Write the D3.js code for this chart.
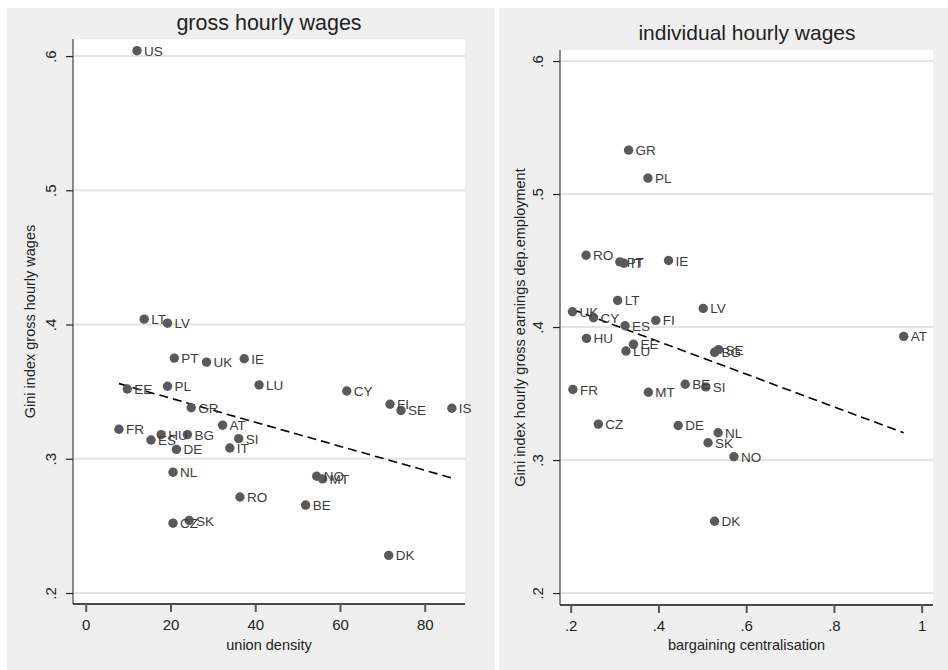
<!DOCTYPE html>
<html>
<head>
<meta charset="utf-8">
<script src="https://cdn.jsdelivr.net/npm/d3@7"></script>
<style>
  html, body { margin: 0; padding: 0; background: #ffffff; }
  svg { display: block; font-family: "Liberation Sans", Arial, sans-serif; }
</style>
</head>
<body>
<svg id="chart" width="948" height="670"></svg>
<script>
// Gini of gross hourly wages vs. union density
const leftCountries = ["US","LT","LV","PT","UK","IE","EE","PL","LU","GR","FR","AT","HU","ES","BG","SI","DE","IT","NL","RO","CZ","SK","CY","FI","SE","IS","NO","MT","BE","DK"];
const unionDensity  = [12.1,13.8,19.3,20.9,28.5,37.4,9.8,19.3,40.9,24.9,7.85,32.3,17.8,15.4,24.0,36.1,21.4,34.0,20.6,36.4,20.6,24.4,61.6,71.8,74.4,86.4,54.5,55.9,51.9,71.5];
const giniGross     = [.604,.404,.401,.375,.372,.3745,.352,.354,.355,.338,.322,.325,.318,.314,.318,.315,.307,.308,.290,.2715,.252,.254,.3505,.3406,.336,.3376,.287,.285,.2655,.228];

// Gini of individual hourly earnings vs. bargaining centralisation
const rightCountries  = ["GR","PL","RO","PT","IT","IE","LT","UK","CY","FI","LV","ES","HU","EE","LU","SE","BG","AT","FR","MT","BE","SI","CZ","DE","NL","SK","NO","DK"];
const centralisation  = [.332,.376,.235,.312,.321,.423,.307,.204,.252,.394,.502,.324,.236,.343,.326,.537,.528,.959,.205,.377,.461,.508,.263,.445,.536,.513,.572,.528];
const giniIndividual  = [.533,.512,.454,.449,.448,.450,.420,.4115,.407,.405,.414,.401,.3915,.387,.382,.383,.381,.393,.353,.351,.357,.355,.327,.326,.3205,.313,.3025,.254];

const yTicks = [.2,.3,.4,.5,.6];
const leftXTicks = [0,20,40,60,80];
const rightXTicks = [.2,.4,.6,.8,1];

const fmtDec = d => d === 1 ? "1" : d3.format(".1f")(d).replace(/^0/, "");

const svg = d3.select("#chart");

// grey panel backgrounds
svg.append("rect").attr("x", 7).attr("y", 8).attr("width", 488).attr("height", 662).attr("fill", "#efefef");
svg.append("rect").attr("x", 499).attr("y", 8).attr("width", 449).attr("height", 662).attr("fill", "#efefef");

function ols(xs, ys) {
  const mx = d3.mean(xs), my = d3.mean(ys);
  let sxy = 0, sxx = 0;
  xs.forEach((x, i) => { sxy += (x - mx) * (ys[i] - my); sxx += (x - mx) * (x - mx); });
  const b = sxy / sxx;
  return { b, a: my - b * mx };
}

function drawPanel(p) {
  const g = svg.append("g");
  const x = d3.scaleLinear().domain(p.xDomain).range([p.left, p.right]);
  const y = d3.scaleLinear().domain(p.yDomain).range([p.bottom, p.top]);

  // plot area
  g.append("rect").attr("x", p.left).attr("y", p.top)
    .attr("width", p.right - p.left).attr("height", p.bottom - p.top).attr("fill", "#ffffff");

  // horizontal grid
  g.selectAll(".grid").data(yTicks).join("line")
    .attr("x1", p.left).attr("x2", p.right)
    .attr("y1", d => y(d)).attr("y2", d => y(d))
    .attr("stroke", "#e4e4e4").attr("stroke-width", 2);

  // y axis
  const yAxis = g.append("g").attr("transform", `translate(${p.left},0)`)
    .call(d3.axisLeft(y).tickValues(yTicks).tickFormat(fmtDec).tickSize(7).tickPadding(9));
  yAxis.select(".domain").attr("stroke", "#6e6e6e").attr("stroke-width", 1.6)
    .attr("d", `M0,${p.top}V${p.bottom}`);
  yAxis.selectAll(".tick line").attr("stroke", "#222").attr("stroke-width", 1.2);
  yAxis.selectAll(".tick text")
    .attr("transform", "rotate(-90)")
    .attr("x", 0).attr("y", -17).attr("dy", 0)
    .attr("text-anchor", "middle")
    .attr("font-size", 15).attr("fill", "#222");

  // x axis
  const xAxis = g.append("g").attr("transform", `translate(0,${p.bottom})`)
    .call(d3.axisBottom(x).tickValues(p.xTicks).tickFormat(p.xFormat).tickSize(8).tickPadding(7));
  xAxis.select(".domain").attr("stroke", "#111").attr("stroke-width", 1.6)
    .attr("d", `M${p.left},0H${p.right}`);
  xAxis.selectAll(".tick line").attr("stroke", "#555").attr("stroke-width", 2);
  xAxis.selectAll(".tick text").attr("font-size", 15).attr("fill", "#222");

  // fitted line over the observed x range
  const fit = ols(p.xs, p.ys);
  const xr = d3.extent(p.xs);
  g.append("line")
    .attr("x1", x(xr[0])).attr("y1", y(fit.a + fit.b * xr[0]))
    .attr("x2", x(xr[1])).attr("y2", y(fit.a + fit.b * xr[1]))
    .attr("stroke", "#000").attr("stroke-width", 1.6).attr("stroke-dasharray", "9,5");

  // markers and labels
  const pts = p.names.map((n, i) => ({ n, x: p.xs[i], y: p.ys[i] }));
  g.selectAll(".dot").data(pts).join("circle")
    .attr("cx", d => x(d.x)).attr("cy", d => y(d.y)).attr("r", 4.7)
    .attr("fill", "#5a5a5a");
  g.selectAll(".lbl").data(pts).join("text")
    .attr("x", d => x(d.x) + 7).attr("y", d => y(d.y) + 5)
    .attr("font-size", 13.5).attr("fill", "#3c3c3c").text(d => d.n);

  // titles
  g.append("text").attr("x", p.titleX).attr("y", p.titleY).attr("text-anchor", "middle")
    .attr("font-size", p.titleSize).attr("fill", "#222").text(p.title);
  g.append("text").attr("x", (p.left + p.right) / 2).attr("y", 650).attr("text-anchor", "middle")
    .attr("font-size", 14.5).attr("fill", "#222").text(p.xTitle);
  g.append("text")
    .attr("transform", `translate(${p.yTitleX},${(p.top + p.bottom) / 2}) rotate(-90)`)
    .attr("text-anchor", "middle").attr("font-size", 14.5).attr("fill", "#222").text(p.yTitle);
}

drawPanel({
  left: 73, right: 465, top: 39, bottom: 604,
  xDomain: [-3.0, 89.5], yDomain: [.1918, .6127],
  xTicks: leftXTicks, xFormat: d3.format("d"),
  names: leftCountries, xs: unionDensity, ys: giniGross,
  title: "gross hourly wages", titleX: 269, titleY: 30, titleSize: 21.5,
  xTitle: "union density",
  yTitle: "Gini index gross hourly wages", yTitleX: 35
});

drawPanel({
  left: 560, right: 933, top: 50, bottom: 605,
  xDomain: [.1756, 1.0258], yDomain: [.191, .6083],
  xTicks: rightXTicks, xFormat: fmtDec,
  names: rightCountries, xs: centralisation, ys: giniIndividual,
  title: "individual hourly wages", titleX: 747, titleY: 40, titleSize: 21,
  xTitle: "bargaining centralisation",
  yTitle: "Gini index hourly gross earnings dep.employment", yTitleX: 525
});
</script>
</body>
</html>
